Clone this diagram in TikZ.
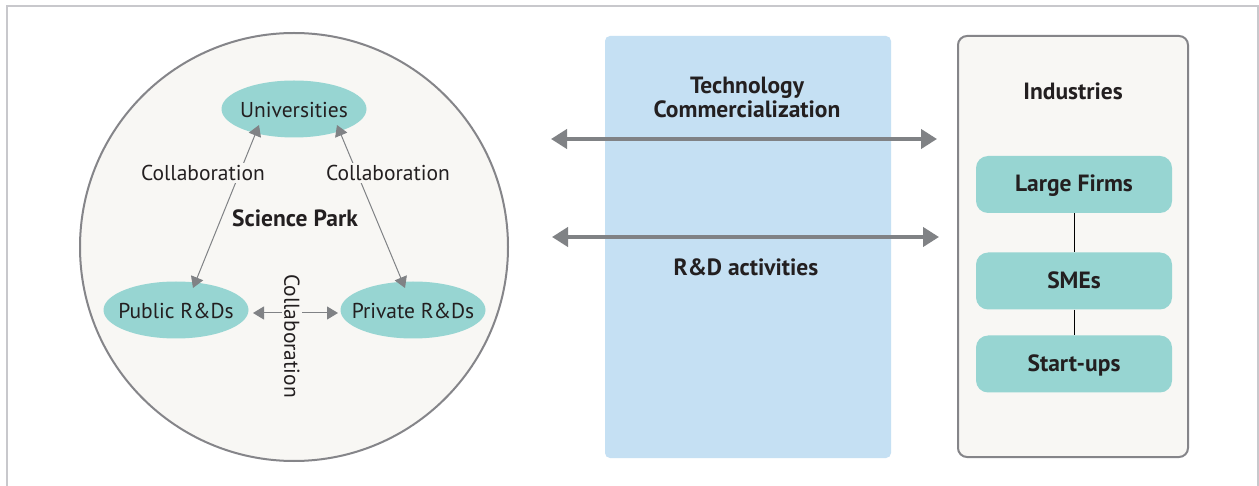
\documentclass[tikz,border=0pt]{standalone}
\usepackage{fontspec}
\setmainfont{PT Sans}
\usetikzlibrary{arrows.meta,calc,shapes.geometric}
\definecolor{frame}{HTML}{C8C8CC}
\definecolor{edge}{HTML}{858589}
\definecolor{paper}{HTML}{F8F7F4}
\definecolor{teal}{HTML}{97D5D2}
\definecolor{skyb}{HTML}{C5E0F3}
\definecolor{ink}{HTML}{231F20}
\definecolor{arr}{HTML}{808285}
\tikzset{
  every node/.style={text=ink, font=\fontsize{21.5}{24}\selectfont},
  boldtxt/.style={font=\fontsize{23.5}{24}\selectfont\bfseries},
  oval/.style={ellipse, fill=teal, minimum width=145pt, minimum height=57pt, inner sep=0pt},
  firm/.style={rounded corners=12pt, fill=teal, minimum width=196pt, minimum height=57pt, inner sep=0pt, text height=16.5pt, text depth=2pt, font=\fontsize{23.5}{24}\selectfont\bfseries},
  thin arrow/.style={draw=arr, line width=1pt, {Triangle[length=11pt,width=13pt]}-{Triangle[length=11pt,width=13pt]}},
  thick arrow/.style={draw=arr, line width=4.5pt, {Triangle[length=16pt,width=19pt]}-{Triangle[length=16pt,width=19pt]}},
  lab/.style={fill=paper, inner sep=2pt},
}
\begin{document}
\begin{tikzpicture}[x=1pt,y=-1pt]
\useasboundingbox (0,0) rectangle (1259,486);
\fill[white] (0,0) rectangle (1259,486);
\draw[frame, line width=2pt] (6.5,495) -- (6.5,6.5) -- (1257.5,6.5) -- (1257.5,495);

% blue band
\node[fill=skyb, rounded corners=5pt, minimum width=286pt, minimum height=422pt, inner sep=0pt] (band) at (748,247) {};
\node[boldtxt, align=center] (tc) at (747,97) {Technology\\Commercialization};
\node[boldtxt] (rd) at (746,267) {R\&D activities};

% science park
\node[circle, draw=edge, line width=2pt, fill=paper, minimum size=428pt, inner sep=0pt] (sp) at (294,247) {};
\node[oval] (uni) at (294,109) {};
\node[oval] (pub) at (176,310) {};
\node[oval] (pri) at (413,310) {};
\node (unit) at (294,110) {Universities};
\node (pubt) at (176,311) {Public R\&Ds};
\node (prit) at (413,311) {Private R\&Ds};
\node[boldtxt] (spl) at (295,218) {Science Park};

\draw[thin arrow] ($(uni)+(-35,16)$) -- ($(pub)+(17,-22)$);
\draw[thin arrow] ($(uni)+(43,16)$) -- ($(pri)+(-8,-22)$);
\draw[thin arrow] ($(pub)+(77,3)$) -- ($(pri)+(-75,3)$);
\node[lab] (c1) at (203,173) {Collaboration};
\node[lab] (c2) at (388,173) {Collaboration};
\node[lab, rotate=-90, inner xsep=0pt] (c3) at (292,336) {Collaboration};

% industries
\node[draw=edge, line width=2pt, fill=paper, rounded corners=9pt, minimum width=230pt, minimum height=421pt, inner sep=0pt] (ind) at (1073,246.5) {};
\node[boldtxt] (indl) at (1073,91) {Industries};
\node[firm] (lf) at (1074,184.5) {Large Firms};
\node[firm] (sme) at (1074,281) {SMEs};
\node[firm] (su) at (1074,364) {Start-ups};
\draw[black, line width=0.8pt] (lf) -- (sme);
\draw[black, line width=0.8pt] (sme) -- (su);

% big arrows
\coordinate (a1l) at (551,139);
\coordinate (a1r) at (937,139);
\coordinate (a2l) at (552,237);
\coordinate (a2r) at (939,237);
\draw[thick arrow] (a1l) -- (a1r);
\draw[thick arrow] (a2l) -- (a2r);
\end{tikzpicture}
\end{document}
